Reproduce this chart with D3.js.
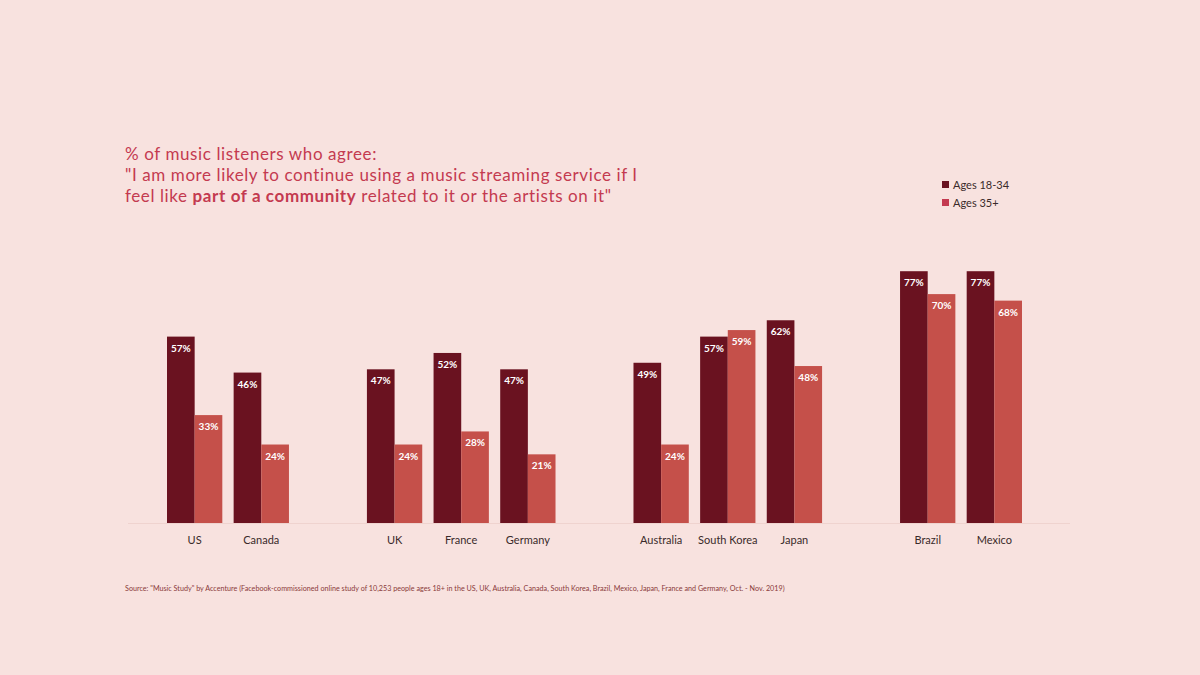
<!DOCTYPE html><html><head><meta charset="utf-8">
<script src="https://cdn.jsdelivr.net/npm/d3@7"></script>
<style>body{margin:0;background:#f8e2df}svg{display:block}</style></head><body>
<svg id="c" width="1200" height="675"></svg>
<script>
const countries=["US","Canada","UK","France","Germany","Australia","South Korea","Japan","Brazil","Mexico"];
const groups=[0,0,1,1,1,2,2,2,3,3];
const young=[57,46,47,52,47,49,57,62,77,77];
const older=[33,24,24,28,21,24,59,48,70,68];
const seriesNames=["Ages 18-34","Ages 35+"];
const colors=["#6a1220","#c5504a"];
const svg=d3.select("#c");
const font="Lato, 'Open Sans', sans-serif";
// slot domain with spacers between groups
const slots=[];countries.forEach((c,i)=>{if(i>0&&groups[i]!==groups[i-1])slots.push("_gap"+i);slots.push(c);});
const x=d3.scaleBand().domain(slots).range([167,1022]).paddingInner(0.17).paddingOuter(0);
const y=d3.scaleLinear().domain([0,100]).range([523,196]);
const bw=x.bandwidth()/2;
svg.append("line").attr("x1",128).attr("x2",1070).attr("y1",y(0)+0.5).attr("y2",y(0)+0.5).attr("stroke","#efd3cf").attr("stroke-width",1);
[young,older].forEach((vals,s)=>{
  const g=svg.append("g");
  g.selectAll("rect").data(countries).join("rect")
   .attr("x",c=>x(c)+s*bw).attr("width",bw).attr("y",(c,i)=>y(vals[i])).attr("height",(c,i)=>y(0)-y(vals[i])).attr("fill",colors[s]);
  g.selectAll("text").data(countries).join("text")
   .attr("x",c=>x(c)+s*bw+bw/2).attr("y",(c,i)=>y(vals[i])+15).attr("text-anchor","middle")
   .attr("font-family",font).attr("font-weight","bold").attr("font-size",10).attr("fill","#fff")
   .text((c,i)=>vals[i]+"%");
});
svg.append("g").selectAll("text").data(countries).join("text")
 .attr("x",c=>x(c)+x.bandwidth()/2).attr("y",544).attr("text-anchor","middle")
 .attr("font-family",font).attr("font-size",11).attr("fill","#3a2a2a").text(c=>c);
const tc="#c43a50";
const t=svg.append("text").attr("font-family",font).attr("font-size",17).attr("fill",tc).attr("letter-spacing",0.6);
t.append("tspan").attr("x",125).attr("y",160).text("% of music listeners who agree:");
t.append("tspan").attr("x",125).attr("y",181).text("\"I am more likely to continue using a music streaming service if I");
const l3=t.append("tspan").attr("x",125).attr("y",202);
l3.append("tspan").text("feel like ");
l3.append("tspan").attr("font-weight","bold").text("part of a community");
l3.append("tspan").text(" related to it or the artists on it\"");
seriesNames.forEach((n,i)=>{
  svg.append("rect").attr("x",942).attr("y",181+i*18).attr("width",7).attr("height",7).attr("fill",i?"#c43a50":colors[0]);
  svg.append("text").attr("x",953).attr("y",189+i*18).attr("font-family",font).attr("font-size",11).attr("fill","#3a2a2a").text(n);
});
svg.append("text").attr("x",125).attr("y",591).attr("font-family",font).attr("font-size",7.2).attr("fill","#8a3a3a")
 .text("Source: \"Music Study\" by Accenture (Facebook-commissioned online study of 10,253 people ages 18+ in the US, UK, Australia, Canada, South Korea, Brazil, Mexico, Japan, France and Germany, Oct. - Nov. 2019)");
</script></body></html>
